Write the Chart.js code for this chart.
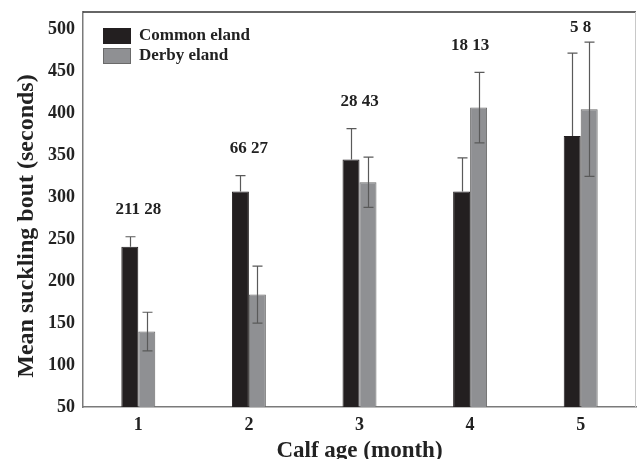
<!DOCTYPE html>
<html>
<head>
<meta charset="utf-8">
<style>
html,body{margin:0;padding:0;background:#fff;}
#wrap{width:637px;height:459px;}
</style>
<script src="https://cdn.jsdelivr.net/npm/chart.js@4.4.1/dist/chart.umd.min.js"></script>
</head>
<body>
<div id="wrap"><canvas id="c" width="637" height="459"></canvas></div>
<script>
const categories = ['1', '2', '3', '4', '5'];
const commonMean = [241, 307, 345, 307, 373];
const commonErr  = [12, 19, 37, 40, 99];
const derbyMean  = [140, 184, 318, 407, 405];
const derbyErr   = [23, 34, 30, 42, 80];
const commonN    = [211, 66, 28, 18, 5];
const derbyN     = [28, 27, 43, 13, 8];
const yTicks     = [50, 100, 150, 200, 250, 300, 350, 400, 450, 500];

const SERIF = '"Liberation Serif", "Times New Roman", serif';

const errorBars = {
  id: 'errorBars',
  afterDatasetsDraw(chart) {
    const ctx = chart.ctx;
    const y = chart.scales.y;
    const errs = [commonErr, derbyErr];
    const means = [commonMean, derbyMean];
    const both = [false, true];
    ctx.save();
    ctx.lineWidth = 1.2;
    ctx.strokeStyle = '#5a5a5a';
    for (let d = 0; d < 2; d++) {
      const meta = chart.getDatasetMeta(d);
      meta.data.forEach((bar, i) => {
        const x = Math.round(bar.x) + 0.5;
        const top = y.getPixelForValue(means[d][i] + errs[d][i]);
        const bot = both[d] ? y.getPixelForValue(means[d][i] - errs[d][i]) : y.getPixelForValue(means[d][i]);
        ctx.beginPath();
        ctx.moveTo(x, top); ctx.lineTo(x, bot);
        ctx.moveTo(x - 5, top); ctx.lineTo(x + 5, top);
        if (both[d]) { ctx.moveTo(x - 5, bot); ctx.lineTo(x + 5, bot); }
        ctx.stroke();
      });
    }
    // sample size labels
    ctx.fillStyle = '#222';
    ctx.font = 'bold 17px ' + SERIF;
    ctx.textAlign = 'center';
    ctx.textBaseline = 'middle';
    const m0 = chart.getDatasetMeta(0), m1 = chart.getDatasetMeta(1);
    categories.forEach((c, i) => {
      const cx = (m0.data[i].x + m1.data[i].x) / 2;
      const topPx = Math.min(y.getPixelForValue(commonMean[i] + commonErr[i]),
                             y.getPixelForValue(derbyMean[i] + derbyErr[i]));
      const ty = Math.max(chart.chartArea.top + 16, topPx - 27);
      ctx.fillText(commonN[i] + ' ' + derbyN[i], cx, ty);
    });
    ctx.restore();
  },
  afterDraw(chart) {
    const ctx = chart.ctx;
    const a = chart.chartArea;
    ctx.save();
    // frame top and right
    ctx.strokeStyle = '#333';
    ctx.lineWidth = 1.5;
    ctx.beginPath(); ctx.moveTo(a.left, a.top); ctx.lineTo(a.right, a.top); ctx.stroke();
    ctx.strokeStyle = '#c8c8c8';
    ctx.lineWidth = 1;
    ctx.beginPath(); ctx.moveTo(a.right - 0.5, a.top); ctx.lineTo(a.right - 0.5, a.bottom); ctx.stroke();
    // legend
    const items = [['Common eland', '#231f20', '#231f20'], ['Derby eland', '#8f9093', '#6a6a6a']];
    ctx.font = 'bold 17px ' + SERIF;
    ctx.textAlign = 'left';
    ctx.textBaseline = 'middle';
    items.forEach((it, k) => {
      const bx = a.left + 20, by = a.top + 16 + k * 20;
      ctx.fillStyle = it[1];
      ctx.fillRect(bx, by, 28, 16);
      ctx.strokeStyle = it[2];
      ctx.lineWidth = 1;
      ctx.strokeRect(bx + 0.5, by + 0.5, 27, 15);
      ctx.fillStyle = '#222';
      ctx.fillText(it[0], bx + 36, by + 8);
    });
    // y title
    ctx.font = 'bold 24px ' + SERIF;
    ctx.textAlign = 'center';
    ctx.translate(27, 226);
    ctx.rotate(-Math.PI / 2);
    ctx.fillText('Mean suckling bout (seconds)', 0, 0);
    ctx.restore();
  }
};

new Chart(document.getElementById('c'), {
  type: 'bar',
  data: {
    labels: categories,
    datasets: [
      { label: 'Common eland', data: commonMean, backgroundColor: '#231f20', borderColor: '#231f20', borderWidth: 1,
        barPercentage: 1.0, categoryPercentage: 0.307 },
      { label: 'Derby eland', data: derbyMean, backgroundColor: '#8f9093', borderColor: '#6a6a6a', borderWidth: 1,
        barPercentage: 1.0, categoryPercentage: 0.307 }
    ]
  },
  options: {
    responsive: false,
    animation: false,
    layout: { padding: { left: 0, top: 12, right: 1, bottom: 0 } },
    plugins: { legend: { display: false }, tooltip: { enabled: false } },
    scales: {
      x: {
        grid: { display: false },
        border: { display: true, color: '#7a7a7a', width: 1.5 },
        ticks: { color: '#222', font: { family: SERIF, size: 18, weight: 'bold' }, padding: 0 },
        title: { display: true, text: 'Calf age (month)', color: '#222', font: { family: SERIF, size: 23, weight: 'bold' }, padding: { top: 0, bottom: -6 } },
        afterFit(s) { s.height = 52; }
      },
      y: {
        min: 50, max: 521,
        grid: { display: false },
        border: { display: true, color: '#7a7a7a', width: 1.5 },
        afterBuildTicks(s) { s.ticks = yTicks.map(v => ({ value: v })); },
        ticks: { color: '#222', font: { family: SERIF, size: 18, weight: 'bold' }, padding: 0 },
        afterFit(s) { s.width = 83; }
      }
    }
  },
  plugins: [errorBars]
});
</script>
</body>
</html>
